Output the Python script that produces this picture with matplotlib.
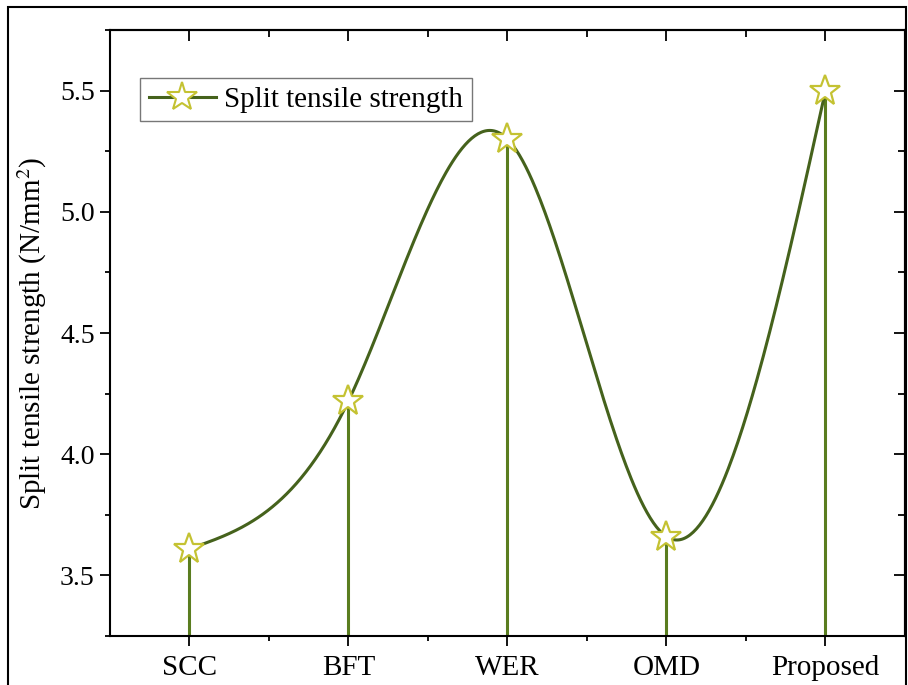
import numpy as np
import matplotlib
matplotlib.use("Agg")
import matplotlib.pyplot as plt
from matplotlib.ticker import MultipleLocator, FixedLocator
from matplotlib.lines import Line2D
from matplotlib.patches import Rectangle

categories = ["SCC", "BFT", "WER", "OMD", "Proposed"]
values = [3.61, 4.22, 5.30, 3.66, 5.50]
y_ticks = [3.5, 4.0, 4.5, 5.0, 5.5]
series_name = "Split tensile strength"
y_label = "Split tensile strength (N/mm$^2$)"

plt.rcParams["font.family"] = ["Liberation Serif", "DejaVu Serif"]
plt.rcParams["mathtext.fontset"] = "stix"

curve_color = "#45621c"
stem_color = "#5a7d1f"
star_edge = "#c4c232"


def natural_spline(x, y, xs):
    x = np.asarray(x, float)
    y = np.asarray(y, float)
    n = len(x)
    h = np.diff(x)
    A = np.zeros((n, n))
    b = np.zeros(n)
    A[0, 0] = 1
    A[-1, -1] = 1
    for i in range(1, n - 1):
        A[i, i - 1] = h[i - 1]
        A[i, i] = 2 * (h[i - 1] + h[i])
        A[i, i + 1] = h[i]
        b[i] = 3 * ((y[i + 1] - y[i]) / h[i] - (y[i] - y[i - 1]) / h[i - 1])
    c = np.linalg.solve(A, b)
    out = np.empty_like(xs)
    for k, xv in enumerate(xs):
        i = min(max(np.searchsorted(x, xv) - 1, 0), n - 2)
        dx = xv - x[i]
        bi = (y[i + 1] - y[i]) / h[i] - h[i] * (2 * c[i] + c[i + 1]) / 3
        di = (c[i + 1] - c[i]) / (3 * h[i])
        out[k] = y[i] + bi * dx + c[i] * dx ** 2 + di * dx ** 3
    return out


fig = plt.figure(figsize=(9.08, 6.85), dpi=100)
ax = fig.add_axes([0.1211, 0.0715, 0.8756, 0.8847])

xpos = np.arange(len(categories))
ymin, ymax = 3.25, 5.75

# stems
ax.vlines(xpos, ymin, values, color=stem_color, lw=2.2, zorder=2)
# smooth curve
xs = np.linspace(xpos[0], xpos[-1], 400)
ax.plot(xs, natural_spline(xpos, values, xs), color=curve_color, lw=2.2, zorder=3)
# markers
ax.plot(xpos, values, ls="none", marker="*", ms=23, mfc="white", mec=star_edge,
        mew=1.6, zorder=4)

ax.set_xlim(-0.5, 4.5)
ax.set_ylim(ymin, ymax)
ax.set_xticks(xpos)
ax.set_xticklabels(categories, fontsize=21)
ax.xaxis.set_minor_locator(FixedLocator(xpos[:-1] + 0.5))
ax.set_yticks(y_ticks)
ax.set_yticklabels([f"{v:.1f}" for v in y_ticks], fontsize=20)
ax.yaxis.set_minor_locator(MultipleLocator(0.25))
ax.set_ylabel(y_label, fontsize=21, labelpad=8)

for s in ax.spines.values():
    s.set_linewidth(1.5)
ax.tick_params(axis="x", which="major", direction="out", length=7, width=1.3, pad=7)
ax.tick_params(axis="y", which="major", direction="out", length=7, width=1.3, pad=4)
ax.tick_params(which="minor", direction="out", length=3.5, width=1.3)

top = ax.secondary_xaxis("top")
top.set_xticks(xpos)
top.set_xticklabels([])
top.xaxis.set_minor_locator(FixedLocator(xpos[:-1] + 0.5))
top.tick_params(which="major", direction="in", length=8, width=1.3)
top.tick_params(which="minor", direction="in", length=5, width=1.3)
top.spines["top"].set_linewidth(1.5)

right = ax.secondary_yaxis("right")
right.set_yticks(y_ticks)
right.set_yticklabels([])
right.yaxis.set_minor_locator(MultipleLocator(0.25))
right.tick_params(which="major", direction="in", length=8, width=1.3)
right.tick_params(which="minor", direction="in", length=5, width=1.3)
right.spines["right"].set_linewidth(1.5)

handle = Line2D([], [], color=curve_color, lw=2.2, ls="-", marker="*", ms=22,
                mfc="white", mec=star_edge, mew=1.5)
leg = ax.legend([handle], [series_name], loc="upper left",
                bbox_to_anchor=(0.0376, 0.9215), fontsize=21, frameon=True,
                fancybox=False, edgecolor="#777777", framealpha=1,
                borderpad=0.3, handlelength=2.3, handletextpad=0.3,
                borderaxespad=0)
leg.get_frame().set_linewidth(1.0)

# outer frame
fig.patches.append(Rectangle((8 / 908, -0.01), 898 / 908, 1 - 7 / 685 + 0.01,
                             transform=fig.transFigure, fill=False,
                             edgecolor="black", lw=1.5))

fig.savefig("out.png", dpi=100)
